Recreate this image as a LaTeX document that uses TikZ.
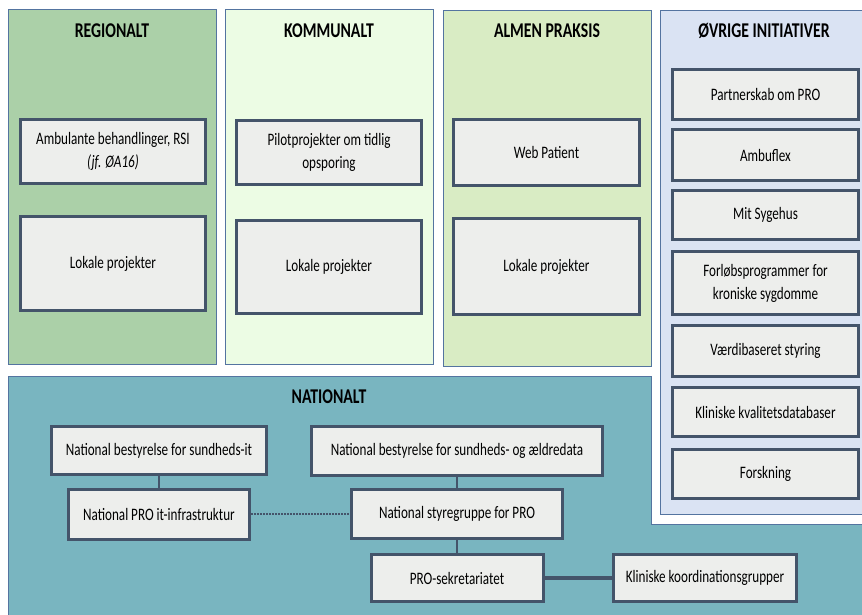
\documentclass[tikz,border=0pt]{standalone}
\usepackage{fontspec}
\setmainfont{Carlito}[FakeStretch=0.75]
\usetikzlibrary{positioning}

\definecolor{regfill}{RGB}{171,208,168}
\definecolor{komfill}{RGB}{236,252,228}
\definecolor{almfill}{RGB}{217,236,196}
\definecolor{ovrfill}{RGB}{218,227,243}
\definecolor{natfill}{RGB}{121,181,192}
\definecolor{boxfill}{RGB}{237,238,236}
\definecolor{boxline}{RGB}{68,84,106}
\definecolor{panelline}{RGB}{84,116,160}

\begin{document}
\begin{tikzpicture}[x=1pt, y=-1pt,
    panel/.style={draw=panelline, line width=0.8pt},
    paneltitle/.style={font=\fontsize{21}{24}\selectfont\bfseries},
    item/.style={draw=boxline, line width=3pt, fill=boxfill, align=center, inner sep=2pt,
                 font=\fontsize{17.5}{23}\selectfont},
    link/.style={draw=boxline, line width=2pt}]
    \useasboundingbox (0,0) rectangle (862,615);

    % panels
    \draw[panel, fill=regfill] (8,9) rectangle (216,364);
    \draw[panel, fill=komfill] (225,9) rectangle (433,364);
    \draw[panel, fill=almfill] (443,10) rectangle (651,366);
    \draw[panel, fill=natfill] (8,376) rectangle (880,630);
    \fill[white] (651,370) rectangle (880,524);
    \draw[panel] (651,376) -- (651,524) -- (880,524);
    \draw[panel, fill=ovrfill] (660,10) rectangle (880,514);

    \node[paneltitle] at (112,31)  (t_reg) {REGIONALT};
    \node[paneltitle] at (329,31)  (t_kom) {KOMMUNALT};
    \node[paneltitle] at (547,31)  (t_alm) {ALMEN PRAKSIS};
    \node[paneltitle] at (764,31)  (t_ovr) {ØVRIGE INITIATIVER};
    \node[paneltitle] at (329,397) (t_nat) {NATIONALT};

    % regionalt
    \node[item, minimum width=185, minimum height=64] at (113,151.5) (ambulant) {Ambulante behandlinger, RSI\\\textit{(jf. ØA16)}};
    \node[item, minimum width=185, minimum height=94] at (113,263.5) (lokal_reg) {Lokale projekter};

    % kommunalt
    \node[item, minimum width=185, minimum height=64] at (329,152.5) (pilot) {Pilotprojekter om tidlig\\opsporing};
    \node[item, minimum width=185, minimum height=93] at (329,267) (lokal_kom) {Lokale projekter};

    % almen praksis
    \node[item, minimum width=186, minimum height=66] at (546.5,152.5) (webpatient) {Web Patient};
    \node[item, minimum width=186, minimum height=96] at (546.5,266.5) (lokal_alm) {Lokale projekter};

    % oevrige initiativer
    \node[item, minimum width=186, minimum height=50] at (765.5,94.5) (partnerskab) {Partnerskab om PRO};
    \node[item, minimum width=186, minimum height=51] at (765.5,155)  (ambuflex) {Ambuflex};
    \node[item, minimum width=186, minimum height=49] at (765.5,215)  (sygehus) {Mit Sygehus};
    \node[item, minimum width=186, minimum height=63] at (765.5,283)  (forloeb) {Forløbsprogrammer for\\kroniske sygdomme};
    \node[item, minimum width=186, minimum height=51] at (765.5,351)  (vaerdi) {Værdibaseret styring};
    \node[item, minimum width=186, minimum height=49] at (765.5,412)  (kvalitet) {Kliniske kvalitetsdatabaser};
    \node[item, minimum width=186, minimum height=49] at (765.5,474)  (forskning) {Forskning};

    % nationalt
    \node[item, minimum width=215, minimum height=48] at (159,450.5) (it_board) {National bestyrelse for sundheds-it};
    \node[item, minimum width=291, minimum height=49] at (457,451)   (data_board) {National bestyrelse for sundheds- og ældredata};
    \node[item, minimum width=181, minimum height=50] at (159,514)   (infra) {National PRO it-infrastruktur};
    \node[item, minimum width=211, minimum height=49] at (457,514)   (styre) {National styregruppe for PRO};
    \node[item, minimum width=172, minimum height=47] at (457,578)   (sekr) {PRO-sekretariatet};
    \node[item, minimum width=183, minimum height=47] at (705,578)   (koord) {Kliniske koordinationsgrupper};

    \draw[link] (it_board) -- (infra);
    \draw[link] (data_board) -- (styre);
    \draw[link] (styre) -- (sekr);
    \draw[link, line width=2.5pt, dash pattern=on 1.5pt off 1.5pt] (infra) -- (styre);
    \draw[link, line width=4pt] (sekr) -- (koord);
\end{tikzpicture}
\end{document}
